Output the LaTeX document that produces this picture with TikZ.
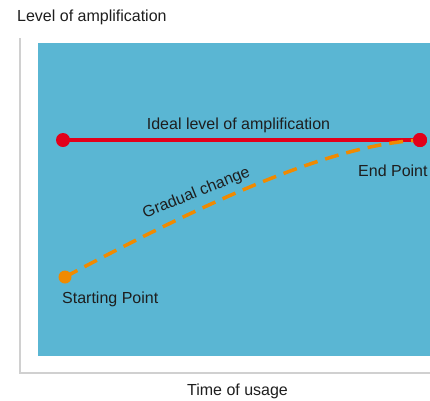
\documentclass[tikz,border=0pt]{standalone}
\usepackage{fontspec}
\setmainfont{Liberation Sans}
\usetikzlibrary{positioning}
\definecolor{plotblue}{HTML}{5AB6D3}
\definecolor{idealred}{HTML}{E2001A}
\definecolor{changeorange}{HTML}{F08A00}
\definecolor{axisgray}{HTML}{D0D0D0}
\definecolor{labelgray}{HTML}{1E1E1E}
\tikzset{
  lbl/.style={inner sep=0pt,text=labelgray,font=\fontsize{16}{19}\selectfont},
  reddot/.style={circle,fill=idealred,inner sep=0pt,minimum size=14pt},
  orangedot/.style={circle,fill=changeorange,inner sep=0pt,minimum size=13pt}
}
\begin{document}
\begin{tikzpicture}[x=1pt,y=-1pt]
\useasboundingbox (0,0) rectangle (430,400);
% axes and plot area
\draw[axisgray,line width=2pt] (19.5,38) -- (19.5,373.3) -- (430,373.3);
\fill[plotblue] (38.3,43.3) rectangle (430,355.7);
% points
\node[reddot] (idealstart) at (63,140) {};
\node[reddot] (endpt) at (420,140) {};
\node[orangedot] (startpt) at (65,277) {};
% lines
\draw[idealred,line width=4pt] (idealstart.center) -- (endpt.center);
\draw[changeorange,line width=3.5pt,dash pattern=on 14pt off 8pt] (startpt.center) .. controls (210,200) and (330,145) .. (endpt.center);
\node[reddot] at (endpt) {};
% labels
\node[lbl,anchor=base west] (ylabel) at (17,21.7) {Level of amplification};
\node[lbl,anchor=base] (xlabel) at (237.5,395) {Time of usage};
\node[lbl,anchor=base] (ideallbl) at (238.5,129.3) {Ideal level of amplification};
\node[lbl,anchor=base west] (endlbl) at (358,176.7) {End Point};
\node[lbl,anchor=base west] (startlbl) at (62,303.3) {Starting Point};
\node[lbl,anchor=base,rotate=22] (changelbl) at (198,197) {Gradual change};
\end{tikzpicture}
\end{document}
